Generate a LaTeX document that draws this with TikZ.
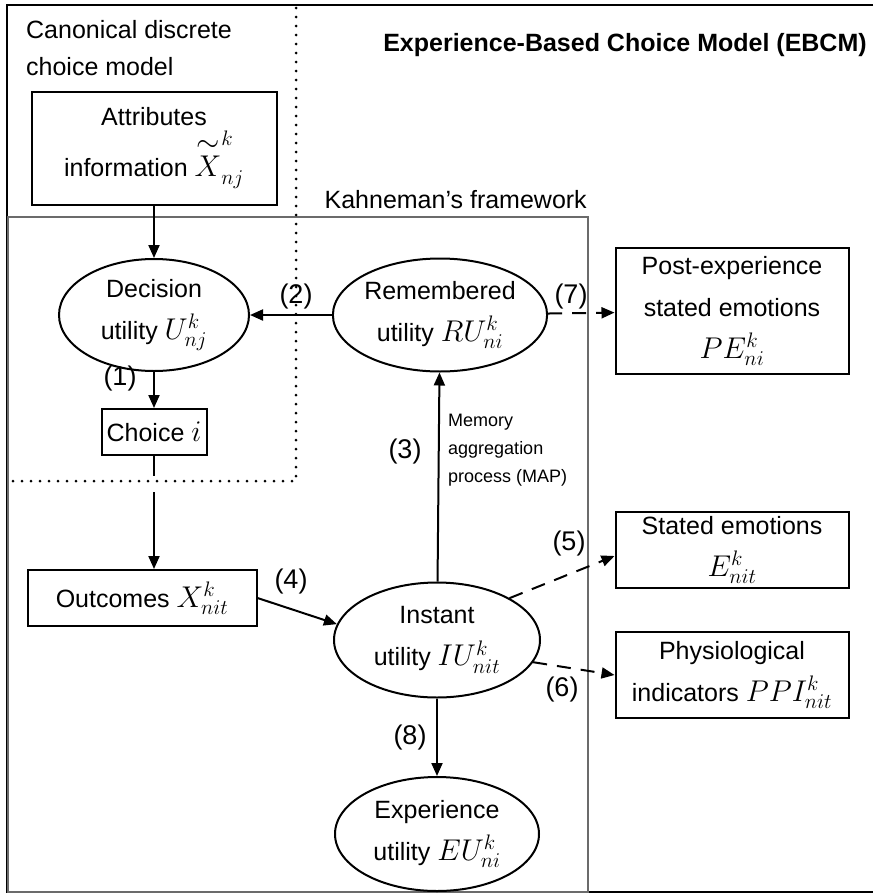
\documentclass[tikz,border=0pt]{standalone}
\usepackage{fix-cm}
\usepackage{amsmath}
\usepackage{fontspec}
\setmainfont{Liberation Sans}
\usetikzlibrary{arrows.meta,shapes.geometric}

% symbols are set a bit larger than the words around them
\newcommand\mth[1]{{\fontsize{30}{40}\selectfont$#1$}}

\tikzset{
  txt/.style={font=\fontsize{25}{42}\selectfont, align=center, inner sep=0pt},
  box/.style={txt, draw, line width=2pt},
  util/.style={txt, draw, ellipse, line width=2pt},
  flow/.style={-{Triangle[length=13pt,width=11pt]}, line width=2pt},
  measure/.style={flow, dash pattern=on 14pt off 10pt},
  num/.style={font=\fontsize{27}{30}\selectfont, inner sep=0pt},
  frame/.style={line width=2.2pt, draw=black!58},
  split/.style={line width=3pt, dash pattern=on 0pt off 9pt, line cap=round},
}

\begin{document}
\begin{tikzpicture}[x=1pt, y=-1pt]
  \useasboundingbox (0,0) rectangle (873,894);

  % outer border, open on the right
  \draw[line width=2.2pt] (873,5) -- (7,5) -- (7,892) -- (873,892);

  % Kahneman's framework
  \draw[frame] (8,217) rectangle (588,892);
  \node[txt, anchor=base east] (kahn) at (587,208) {Kahneman's framework};

  % canonical model corner
  \draw[split] (296,8) -- (296,481) -- (10,481);
  \node[txt, align=left, anchor=north west, font=\fontsize{25}{37}\selectfont] (canon) at (26,20)
    {Canonical discrete\\choice model};
  \node[txt, font=\bfseries\fontsize{25}{30}\selectfont] (title) at (625,45)
    {Experience-Based Choice Model (EBCM)};

  % boxes
  \node[box, minimum width=245, minimum height=113] (attr) at (154,148)
    {Attributes\\[4pt]information \mth{\overset{\textstyle\sim}{X}^{k}_{nj}}};
  \node[box, minimum width=105, minimum height=46] (choice) at (154,432) {Choice \mth{i}};
  \node[box, minimum width=229, minimum height=56] (outc) at (142,598) {Outcomes \mth{X^{k}_{nit}}};
  \node[box, minimum width=233, minimum height=126] (post) at (732,311)
    {Post-experience\\stated emotions\\\mth{PE^{k}_{ni}}};
  \node[box, minimum width=233, minimum height=76] (stated) at (732,550)
    {Stated emotions\\\mth{E^{k}_{nit}}};
  \node[box, minimum width=233, minimum height=86] (phys) at (732,675)
    {Physiological\\indicators \mth{PPI^{k}_{nit}}};

  % utilities
  \node[util, minimum width=190, minimum height=112] (dec) at (154,315)
    {Decision\\utility \mth{U^{k}_{nj}}};
  \node[util, minimum width=210, minimum height=113] (rem) at (440,315)
    {Remembered\\utility \mth{RU^{k}_{ni}}};
  \node[util, minimum width=206, minimum height=115] (inst) at (437,640)
    {Instant\\utility \mth{IU^{k}_{nit}}};
  \node[util, minimum width=204, minimum height=114] (exp) at (437,834)
    {Experience\\utility \mth{EU^{k}_{ni}}};

  % links
  \draw[flow] (attr) -- (dec);
  \draw[flow] (dec) -- (choice);
  \coordinate (cutA) at (154,476);
  \coordinate (cutB) at (154,492);
  \draw[line width=2pt] (choice) -- (cutA);
  \draw[flow] (cutB) -- (outc.north -| cutB);
  \draw[flow] (outc.east) -- (inst.171);
  \draw[flow] (inst) -- (rem);
  \draw[flow] (rem) -- (dec);
  \draw[flow] (inst) -- (exp);
  \draw[measure] (rem) -- (post);
  \draw[measure] (inst.30) -- ([yshift=-6pt]stated.west);
  \draw[measure] (inst.-13) -- (phys.west);

  \node[txt, align=left, anchor=north west, font=\fontsize{18}{28}\selectfont] (map) at (448,414)
    {Memory\\aggregation\\process (MAP)};

  % step numbers
  \node[num] (n1) at (120,379) {(1)};
  \node[num] (n2) at (296,297) {(2)};
  \node[num] (n3) at (405,452) {(3)};
  \node[num] (n4) at (291,582) {(4)};
  \node[num] (n5) at (569,544) {(5)};
  \node[num] (n6) at (562,690) {(6)};
  \node[num] (n7) at (571,297) {(7)};
  \node[num] (n8) at (410,738) {(8)};
\end{tikzpicture}
\end{document}
